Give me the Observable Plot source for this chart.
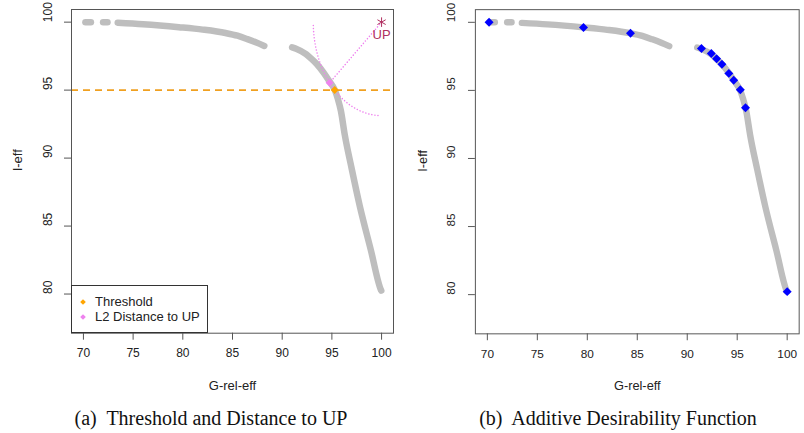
<!DOCTYPE html>
<html><head><meta charset="utf-8">
<script src="https://cdn.jsdelivr.net/npm/d3@7"></script>
<script src="https://cdn.jsdelivr.net/npm/@observablehq/plot@0.6"></script>
<style>
html,body{margin:0;padding:0;background:#fff;overflow:hidden;}
#wrap{position:relative;width:804px;height:433px;overflow:hidden;font-family:"Liberation Sans",Arial,sans-serif;color:#222;}
.panel{position:absolute;top:0;}
.caption{position:absolute;top:405px;font-family:"Liberation Serif","Times New Roman",serif;font-size:20px;line-height:26px;color:#111;white-space:pre;transform:translateX(-50%);}
.legend{position:absolute;left:71px;top:285px;width:137px;height:48px;border:1px solid #333;background:#fff;box-sizing:border-box;font-size:13px;}
.legend .item{position:absolute;left:0;height:16px;line-height:16px;white-space:nowrap;}
.legend .sw{position:absolute;left:9px;top:6px;width:4px;height:4px;transform:rotate(45deg);}
.legend .lb{position:absolute;left:23px;top:0;}
</style>
</head><body>
<div id="wrap">
  <div id="pa" class="panel" style="left:0px"></div>
  <div id="pb" class="panel" style="left:400px"></div>
  <div class="legend">
    <div class="item" style="top:8px"><span class="sw" style="background:#FFA500"></span><span class="lb">Threshold</span></div>
    <div class="item" style="top:23px"><span class="sw" style="background:#EE82EE"></span><span class="lb">L2 Distance to UP</span></div>
  </div>
  <div class="caption" style="left:211px">(a)  Threshold and Distance to UP</div>
  <div class="caption" style="left:618px">(b)  Additive Desirability Function</div>
</div>
<script>
// ---- data ----
const xTicks = [70, 75, 80, 85, 90, 95, 100];
const yTicks = [80, 85, 90, 95, 100];
const xDomain = [68.8, 101.2];
const yDomain = [77.12, 100.93];

// Pareto front (gray), split into visible segments
const frontSeg = [1,1, 2,2, 3,3,3,3,3,3,3,3,3, 4,4,4,4,4,4,4,4,4,4,4,4,4,4,4,4];
const frontX = [70.2, 70.75, 71.98, 72.42, 73.45, 76.0, 79.6, 82.0, 84.3, 85.5, 86.5, 87.4, 88.2,
                91.0, 91.4, 92.4, 92.9, 93.5, 94.2, 94.7, 95.3, 95.6, 95.9, 96.3, 97.0, 97.8, 98.9, 99.95, 99.97];
const frontY = [100.0, 100.0, 100.0, 100.0, 99.96, 99.85, 99.63, 99.45, 99.2, 99.0, 98.75, 98.5, 98.25,
                98.15, 98.05, 97.65, 97.33, 96.9, 96.25, 95.7, 95.0, 94.35, 93.5, 91.7, 89.2, 86.5, 83.3, 80.28, 80.25];

// Panel (a) annotations
const thresholdLevel = 95;
const thresholdPt = {x: 95.28, y: 95.0};
const l2Pt = {x: 94.77, y: 95.54};
const upPt = {x: 100, y: 100};
const arcDegrees = [182, 267];

// Panel (b) additive desirability selections
const desX = [70.17, 79.62, 84.32, 91.42, 92.41, 92.94, 93.47, 94.16, 94.65, 95.31, 95.83, 100.0];
const desY = [100.0, 99.62, 99.2, 98.07, 97.71, 97.33, 96.92, 96.25, 95.74, 95.04, 93.72, 80.22];

// ---- build ----
const front = frontX.map((x, i) => ({x, y: frontY[i], seg: frontSeg[i]}));
const des = desX.map((x, i) => ({x, y: desY[i]}));
const radius = Math.hypot(l2Pt.x - upPt.x, l2Pt.y - upPt.y);
const arc = d3.range(arcDegrees[0], arcDegrees[1] + 0.5, 1).map(a => ({
  x: upPt.x + radius * Math.cos(a * Math.PI / 180),
  y: upPt.y + radius * Math.sin(a * Math.PI / 180)
}));

const GRAY = "#BEBEBE", FR = "#555";

function panel(w, h, m, tickDy, labDy, tickDx, labDx, marks) {
  return Plot.plot({
    width: w, height: h,
    marginLeft: m.l, marginRight: m.r, marginTop: m.t, marginBottom: m.b,
    style: {fontFamily: "Liberation Sans, Arial, sans-serif", fontSize: "12px", color: "#222", background: "transparent", overflow: "visible"},
    x: {domain: xDomain},
    y: {domain: yDomain},
    marks: [
      Plot.line(front, {x: "x", y: "y", z: "seg", stroke: GRAY, strokeWidth: 6.5, strokeLinecap: "round", strokeLinejoin: "round", curve: "monotone-x"}),
      ...marks,
      Plot.frame({stroke: FR}),
      Plot.axisX({ticks: xTicks, tickSize: 7, fill: "none", stroke: FR}),
      Plot.axisY({ticks: yTicks, tickSize: 7, fill: "none", stroke: FR}),
      Plot.text(xTicks, {x: d => d, text: d => String(d), frameAnchor: "bottom", dy: tickDy, fontSize: 12, fill: "#222"}),
      Plot.text(yTicks, {y: d => d, text: d => String(d), frameAnchor: "left", dx: tickDx, rotate: -90, fontSize: 12, fill: "#222"}),
      Plot.text(["G-rel-eff"], {text: d => d, frameAnchor: "bottom", dy: labDy, fontSize: 13, fill: "#222"}),
      Plot.text(["I-eff"], {text: d => d, frameAnchor: "left", dx: labDx, rotate: -90, fontSize: 13, fill: "#222"})
    ]
  });
}

const pa = panel(400, 400, {l: 71, r: 7, t: 9, b: 67.3}, 24, 56.3, -23, -53.5, [
  Plot.ruleY([thresholdLevel], {stroke: "#F0A020", strokeWidth: 1.6, strokeDasharray: "7,5"}),
  Plot.line(arc, {x: "x", y: "y", stroke: "#EE82EE", strokeWidth: 1.5, strokeDasharray: "0.1,3", strokeLinecap: "round"}),
  Plot.line([upPt, l2Pt], {x: "x", y: "y", stroke: "#EE82EE", strokeWidth: 1.5, strokeDasharray: "0.1,3", strokeLinecap: "round"}),
  Plot.dot([l2Pt], {x: "x", y: "y", symbol: "diamond2", r: 3.6, fill: "#EE82EE", stroke: "none"}),
  Plot.dot([thresholdPt], {x: "x", y: "y", symbol: "diamond2", r: 3.6, fill: "#FFA500", stroke: "none"}),
  Plot.dot([upPt], {x: "x", y: "y", symbol: "asterisk", r: 4.5, stroke: "#B03060", strokeWidth: 1}),
  Plot.text([upPt], {x: "x", y: d => d.y - 0.96, text: () => "UP", fill: "#B03060", fontSize: 13})
]);
document.getElementById("pa").appendChild(pa);

const pb = panel(410, 400, {l: 76, r: 5.4, t: 9.3, b: 61.7}, 25, 57.4, -24.3, -53, [
  Plot.dot(des, {x: "x", y: "y", symbol: "diamond2", r: 4.1, fill: "#0000FF", stroke: "none"})
]);
document.getElementById("pb").appendChild(pb);
</script>
</body></html>
